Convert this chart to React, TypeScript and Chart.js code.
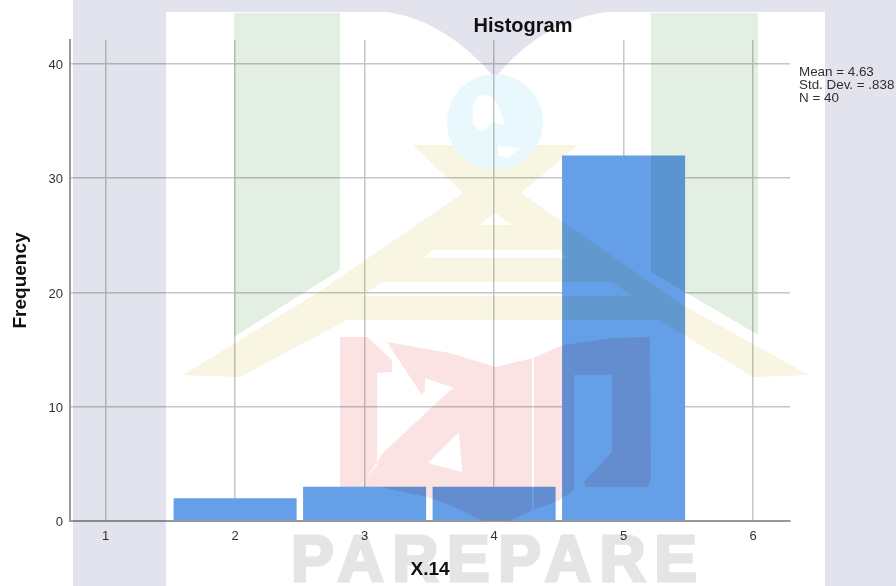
import React, { useEffect, useRef } from "react";
import { Chart, registerables } from "chart.js";

Chart.register(...registerables);

const binCenters = [2, 3, 4, 5];
const frequencies = [2, 3, 3, 32];
const statLines = ["Mean = 4.63", "Std. Dev. = .838", "N = 40"];
const titleText = "Histogram";
const xTitle = "X.14";
const yTitle = "Frequency";
const FONT = '"Liberation Sans", Arial, sans-serif';

const statsPlugin = {
  id: "stats",
  afterLayout(chart: any) {
    // Title sits off-centre in the reference.
    chart.titleBlock.left = 150;
    chart.titleBlock.right = 896;
  },
  afterDraw(chart: any) {
    const ctx = chart.ctx;
    ctx.save();
    ctx.font = `13.4px ${FONT}`;
    ctx.fillStyle = "#333333";
    ctx.textAlign = "left";
    ctx.textBaseline = "middle";
    statLines.forEach((line, i) => ctx.fillText(line, 799, 72.5 + i * 13));
    ctx.restore();
  },
};

function Watermark() {
  return (
    <svg width={896} height={586} style={{ position: "absolute", left: 0, top: 0 }}>
      <rect x={73} y={0} width={823} height={586} fill="#e3e3ee" />
      <rect x={166} y={12} width={659} height={574} fill="#ffffff" />
      <path d="M387,12 Q445,20 495,78 Q540,22 606,12 Z" fill="#e3e3ee" />
      <polygon points="234,13 340,13 340,270 234,337" fill="#e4efe4" />
      <polygon points="651,13 758,13 758,335 651,272" fill="#e4efe4" />
      <polygon
        points="413,145 578,145 521,193 686,307 809,375 753,377 659,320 347,320 240,377 183,375 317,293 463,193"
        fill="#f8f5e3"
      />
      <circle cx={495} cy={122} r={48} fill="#e8f8fd" />
      <polygon points="473,105 478,96 490,95 498,104 505,125 492,122 482,132 473,125" fill="#ffffff" />
      <polygon points="498,146 520,148 508,158 498,156" fill="#ffffff" />
      <polygon points="479,225 495,213 511,225" fill="#ffffff" />
      <polygon points="433,250 558,250 568,258 423,258" fill="#ffffff" />
      <polygon points="383,282 612,282 632,296 362,296" fill="#ffffff" />
      <path
        d="M340,337 L367,337 L387,342 L450,353 L496,367 L533,358 L563,345 L613,338 L650,337 L651,477 L648,487 L586,487 L584,482 L612,452 L612,375 L574,375 L574,490 L560,500 L533,510 L509,521 L483,521 L450,505 L427,497 L380,487 L340,487 Z"
        fill="#fce3e3"
      />
      <polygon
        points="367,337 392,360 392,372 377,373 377,465 360,487 363,484 383,453 447,393 454,388 425,378 425,390 422,395 410,377 387,342"
        fill="#ffffff"
      />
      <polygon points="428,463 459,432 462,472" fill="#ffffff" />
      <rect x={532} y={358} width={2} height={153} fill="#ffffff" />
      <text
        x={291}
        y={581}
        fontFamily={FONT}
        fontWeight="bold"
        fontSize={64}
        fill="#e5e5e5"
        stroke="#e5e5e5"
        strokeWidth={3}
        textLength={406}
        lengthAdjust="spacing"
      >
        PAREPARE
      </text>
    </svg>
  );
}

export default function App() {
  const ref = useRef<HTMLCanvasElement>(null);

  useEffect(() => {
    const chart = new Chart(ref.current as HTMLCanvasElement, {
      type: "bar",
      data: {
        datasets: [
          {
            data: binCenters.map((x, i) => ({ x, y: frequencies[i] })),
            backgroundColor: "#649fe8",
            borderWidth: 0,
            barPercentage: 0.95,
            categoryPercentage: 1,
          },
        ],
      },
      options: {
        animation: false,
        responsive: false,
        devicePixelRatio: 1,
        layout: { padding: { left: 0, right: 106, top: 0, bottom: 0 } },
        plugins: {
          legend: { display: false },
          tooltip: { enabled: false },
          title: {
            display: true,
            text: titleText,
            color: "#111111",
            font: { family: FONT, size: 20, weight: "bold" },
            padding: { top: 14, bottom: 2 },
          },
        },
        scales: {
          x: {
            type: "linear",
            offset: false,
            min: 0.725,
            max: 6.285,
            afterFit: (s: any) => {
              s.height = 65;
            },
            grid: { color: "#c6c6c6", lineWidth: 1.5, drawTicks: false, offset: false },
            border: { color: "#999999", width: 2 },
            ticks: {
              stepSize: 1,
              includeBounds: false,
              maxRotation: 0,
              padding: 8,
              color: "#333333",
              font: { family: FONT, size: 13 },
            },
            title: {
              display: true,
              text: xTitle,
              color: "#111111",
              font: { family: FONT, size: 19, weight: "bold" },
              padding: { top: 0, bottom: 5 },
            },
          },
          y: {
            min: 0,
            max: 42.1,
            afterFit: (s: any) => {
              s.width = 70;
            },
            grid: { color: "#c6c6c6", lineWidth: 1.5, drawTicks: false },
            border: { color: "#999999", width: 2 },
            ticks: {
              stepSize: 10,
              includeBounds: false,
              padding: 7,
              labelOffset: 1.5,
              color: "#333333",
              font: { family: FONT, size: 13 },
            },
            title: {
              display: true,
              text: yTitle,
              color: "#111111",
              font: { family: FONT, size: 19, weight: "bold" },
              padding: { top: 9, bottom: 0 },
            },
          },
        },
      },
      plugins: [statsPlugin],
    } as any);
    return () => chart.destroy();
  }, []);

  return (
    <div
      style={{
        position: "fixed",
        left: 0,
        top: 0,
        width: 896,
        height: 586,
        background: "#ffffff",
        overflow: "hidden",
      }}
    >
      <Watermark />
      <canvas
        ref={ref}
        width={896}
        height={586}
        style={{ position: "absolute", left: 0, top: 0, mixBlendMode: "multiply" }}
      />
    </div>
  );
}
